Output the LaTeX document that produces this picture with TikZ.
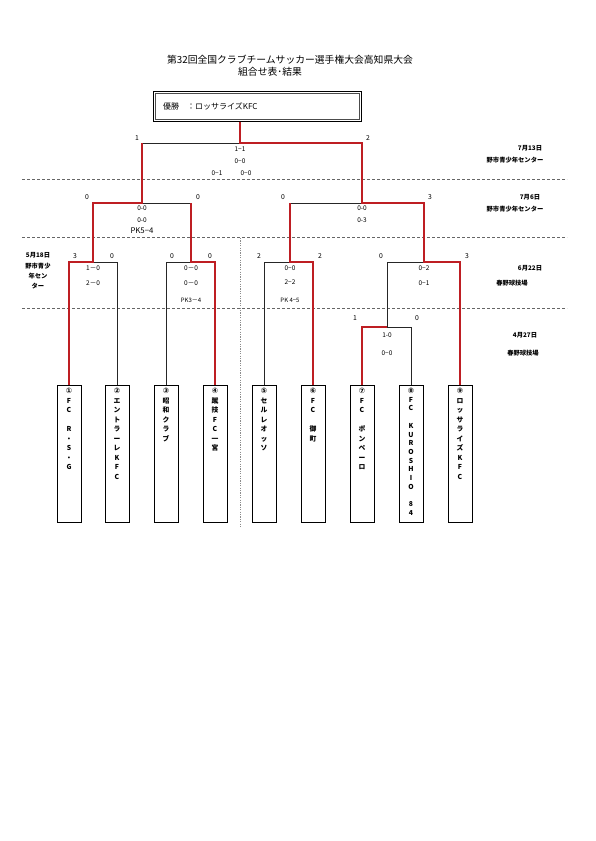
\documentclass[tikz,border=0pt]{standalone}
\usepackage{fontspec}
\setmainfont{Noto Sans CJK JP}
\newfontfamily\circfont{DejaVu Sans}
\newcommand{\cn}[1]{{\circfont\fontsize{7.5}{9.5}\selectfont #1}}
\begin{document}
\begin{tikzpicture}[x=1pt,y=-1pt,
  redline/.style={draw={rgb,255:red,190;green,30;blue,35},line width=1.8pt},
  blackline/.style={draw=black!85,line width=0.6pt},
  sepline/.style={draw=black!60,densely dashed,line width=0.5pt},
  teambox/.style={draw=black,line width=0.6pt,minimum width=24pt,minimum height=137pt,inner sep=0pt,anchor=north},
  teamtext/.style={anchor=north,align=center,inner sep=0pt,font=\fontsize{6.8}{9.5}\selectfont\bfseries},
  score/.style={font=\fontsize{6.5}{7}\selectfont,inner sep=0pt},
  seed/.style={font=\fontsize{6.8}{7}\selectfont,inner sep=0pt},
  info/.style={font=\fontsize{6.3}{7}\selectfont\bfseries,inner sep=0pt}]
\useasboundingbox (0,0) rectangle (595,841);
\fill[white] (0,0) rectangle (595,841);

% title
\node[font=\fontsize{9.8}{11}\selectfont,inner sep=0pt] (title) at (290,60) {第32回全国クラブチームサッカー選手権大会高知県大会};
\node[font=\fontsize{9.8}{11}\selectfont,inner sep=0pt] (subtitle) at (270,72) {組合せ表･結果};

% champion box
\node[draw=black,line width=0.6pt,minimum width=208pt,minimum height=30pt,inner sep=0pt,anchor=north west] (champ) at (153,91) {};
\draw[black!70,line width=0.5pt] ([xshift=2pt,yshift=-2pt]champ.north west) rectangle ([xshift=-2pt,yshift=2pt]champ.south east);
\node[font=\fontsize{8}{9}\selectfont,inner sep=0pt,anchor=west] (champtext) at (163,106) {優勝\quad ：ロッサライズKFC};

% separators
\draw[sepline] (22,179) -- (567,179);
\draw[sepline] (22,237) -- (567,237);
\draw[sepline] (22,308) -- (567,308);
\draw[draw=black!45,dash pattern=on 1.2pt off 1.2pt,line width=1pt] (240,238) -- (240,528);

% teams
\foreach \i/\x in {1/69,2/117,3/166,4/215,5/264,6/313,7/362,8/411,9/460}{
  \draw[black!40,line width=0.8pt] (\x+12.8,386) -- (\x+12.8,522.5);
  \node[teambox] (t\i) at (\x,385) {};
}
\node[teamtext] (n1) at ([yshift=-3pt]t1.north) {\cn{①}\\F\\C\\ \\R\\・\\S\\・\\G};
\node[teamtext] (n2) at ([yshift=-3pt]t2.north) {\cn{②}\\エ\\ン\\ト\\ラ\\ー\\レ\\K\\F\\C};
\node[teamtext] (n3) at ([yshift=-3pt]t3.north) {\cn{③}\\昭\\和\\ク\\ラ\\ブ};
\node[teamtext] (n4) at ([yshift=-3pt]t4.north) {\cn{④}\\蹴\\技\\F\\C\\一\\宮};
\node[teamtext] (n5) at ([yshift=-3pt]t5.north) {\cn{⑤}\\セ\\ル\\レ\\オ\\ッ\\ソ};
\node[teamtext] (n6) at ([yshift=-3pt]t6.north) {\cn{⑥}\\F\\C\\ \\御\\町};
\node[teamtext] (n7) at ([yshift=-3pt]t7.north) {\cn{⑦}\\F\\C\\ \\ポ\\ン\\ペ\\ー\\ロ};
\node[teamtext,font=\fontsize{6.8}{8.7}\selectfont\bfseries] (n8) at ([yshift=-3pt]t8.north) {\cn{⑧}\\F\\C\\ \\K\\U\\R\\O\\S\\H\\I\\O\\ \\8\\4};
\node[teamtext] (n9) at ([yshift=-3pt]t9.north) {\cn{⑨}\\ロ\\ッ\\サ\\ラ\\イ\\ズ\\K\\F\\C};

% bracket coordinates
\coordinate (q1l) at (69,262); \coordinate (q1m) at (93,262); \coordinate (q1r) at (117,262);
\coordinate (q2l) at (166,262); \coordinate (q2m) at (191,262); \coordinate (q2r) at (215,262);
\coordinate (q3l) at (264,262); \coordinate (q3m) at (290,262); \coordinate (q3r) at (313,262);
\coordinate (q4l) at (387,262); \coordinate (q4m) at (424,262); \coordinate (q4r) at (460,262);
\coordinate (r1l) at (362,327); \coordinate (r1m) at (387,327); \coordinate (r1r) at (411,327);
\coordinate (s1l) at (93,203); \coordinate (s1m) at (142,203); \coordinate (s1r) at (191,203);
\coordinate (s2l) at (290,203); \coordinate (s2m) at (362,203); \coordinate (s2r) at (424,203);
\coordinate (fl) at (142,143); \coordinate (fm) at (240,143); \coordinate (fr) at (362,143);

% black (losing) lines
\draw[blackline] (fl) -- (fm);
\draw[blackline] (s1m) -- (s1r);
\draw[blackline] (s2l) -- (s2m);
\draw[blackline] (q1m) -- (q1r) -- (t2.north);
\draw[blackline] (q2m) -- (q2l) -- (t3.north);
\draw[blackline] (q3m) -- (q3l) -- (t5.north);
\draw[blackline] (q4m) -- (q4l) -- (r1m);
\draw[blackline] (r1m) -- (r1r) -- (t8.north);

% red (winning) lines
\draw[redline] (champ.south -| fm) -- (fm) -- (fr) -- (s2m) -- (s2r) -- (q4m) -- (q4r) -- (t9.north);
\draw[redline] (fl) -- (s1m) -- (s1l) -- (q1m) -- (q1l) -- (t1.north);
\draw[redline] (s1r) -- (q2m) -- (q2r) -- (t4.north);
\draw[redline] (s2l) -- (q3m) -- (q3r) -- (t6.north);
\draw[redline] (r1m) -- (r1l) -- (t7.north);

% final
\node[seed] (fsl) at (137,138) {1};
\node[seed] (fsr) at (368,138) {2};
\node[score] (fa) at (240,149) {1−1};
\node[score] (fb) at (240,161) {0−0};
\node[score] (fc) at (217,173) {0−1};
\node[score] (fd) at (246,173) {0−0};
\node[info] (d1) at (530,148) {7月13日};
\node[info] (p1) at (515,160) {野市青少年センター};

% semifinals
\node[seed] (s1a) at (87,197) {0};
\node[seed] (s1b) at (198,197) {0};
\node[score] (s1x) at (142,208) {0-0};
\node[score] (s1y) at (142,220) {0-0};
\node[font=\fontsize{7.8}{8}\selectfont,inner sep=0pt] (s1z) at (142,231) {PK5−4};
\node[seed] (s2a) at (283,197) {0};
\node[seed] (s2b) at (430,197) {3};
\node[score] (s2x) at (362,208) {0-0};
\node[score] (s2y) at (362,220) {0-3};
\node[info] (d2) at (530,197) {7月6日};
\node[info] (p2) at (515,209) {野市青少年センター};

% quarterfinals
\node[seed] (q1a) at (75,256) {3};
\node[seed] (q1b) at (112,256) {0};
\node[score] (q1x) at (93,268) {1－0};
\node[score] (q1y) at (93,283) {2－0};
\node[info] (d3) at (38,255) {5月18日};
\node[info,align=center,font=\fontsize{6.3}{9.8}\selectfont\bfseries,anchor=north] (p3) at (38,263) {野市青少\\年セン\\ター};

\node[seed] (q2a) at (172,256) {0};
\node[seed] (q2b) at (210,256) {0};
\node[score] (q2x) at (191,268) {0－0};
\node[score] (q2y) at (191,283) {0－0};
\node[score,font=\fontsize{6}{7}\selectfont] (q2z) at (191,300) {PK3－4};

\node[seed] (q3a) at (259,256) {2};
\node[seed] (q3b) at (320,256) {2};
\node[score] (q3x) at (290,268) {0−0};
\node[score] (q3y) at (290,282) {2−2};
\node[score,font=\fontsize{6}{7}\selectfont] (q3z) at (290,300) {PK 4−5};

\node[seed] (q4a) at (381,256) {0};
\node[seed] (q4b) at (467,256) {3};
\node[score] (q4x) at (424,268) {0−2};
\node[score] (q4y) at (424,283) {0−1};
\node[info] (d4) at (530,268) {6月22日};
\node[info] (p4) at (512,283) {春野球技場};

% first round
\node[seed] (r1a) at (355,318) {1};
\node[seed] (r1b) at (417,318) {0};
\node[score] (r1x) at (387,335) {1-0};
\node[score] (r1y) at (387,353) {0−0};
\node[info] (d5) at (525,335) {4月27日};
\node[info] (p5) at (523,353) {春野球技場};
\end{tikzpicture}
\end{document}
